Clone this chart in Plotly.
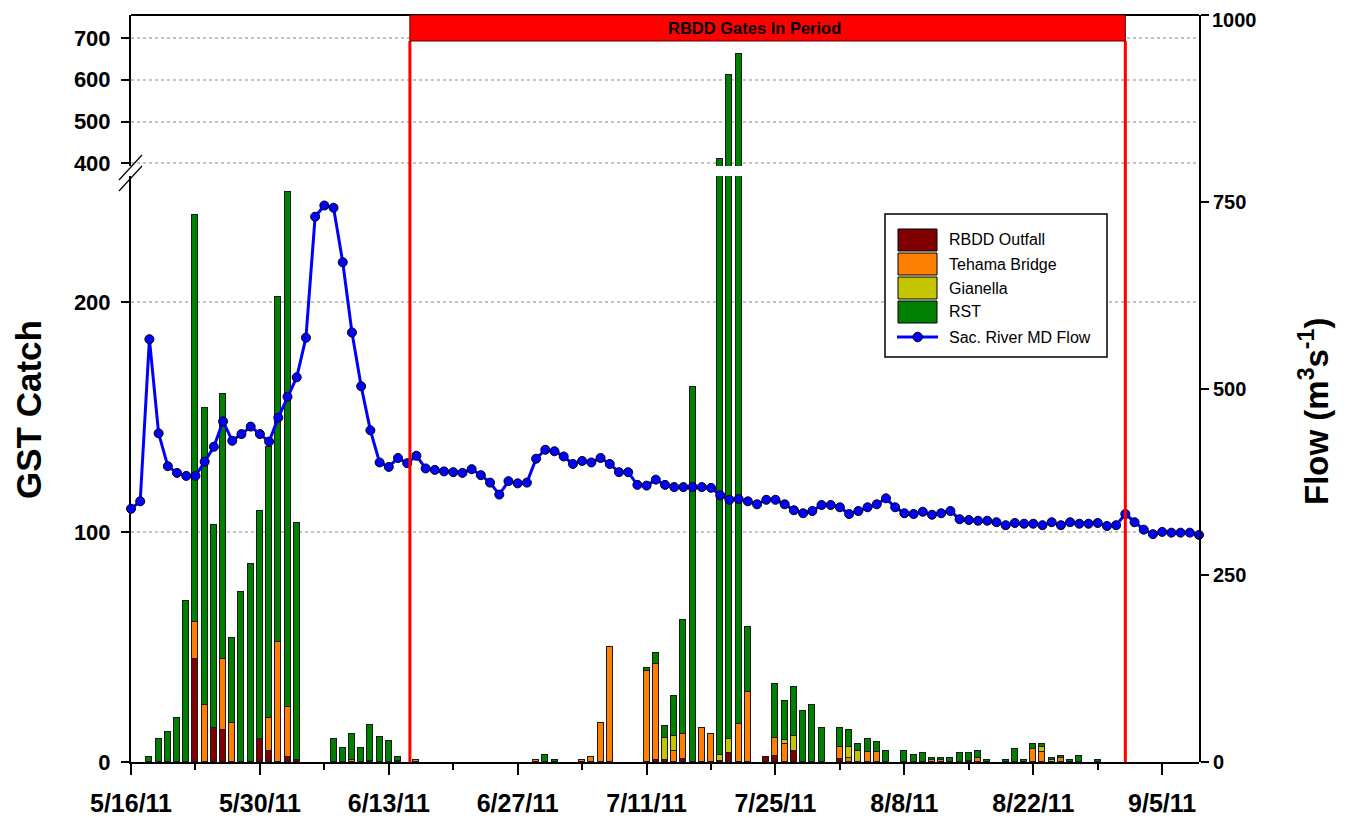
import pandas as pd
import plotly.graph_objects as go

# ---------------- data ----------------
bar_dates = [
    "2011-05-18", "2011-05-19", "2011-05-20", "2011-05-21", "2011-05-22", "2011-05-23",
    "2011-05-24", "2011-05-25", "2011-05-26", "2011-05-27", "2011-05-28", "2011-05-29",
    "2011-05-30", "2011-05-31", "2011-06-01", "2011-06-02", "2011-06-03",
    "2011-06-07", "2011-06-08", "2011-06-09", "2011-06-10", "2011-06-11", "2011-06-12",
    "2011-06-13", "2011-06-14", "2011-06-16",
    "2011-06-29", "2011-06-30", "2011-07-01", "2011-07-04", "2011-07-05", "2011-07-06",
    "2011-07-07", "2011-07-11", "2011-07-12", "2011-07-13", "2011-07-14", "2011-07-15",
    "2011-07-16", "2011-07-17", "2011-07-18", "2011-07-19", "2011-07-20", "2011-07-21",
    "2011-07-22", "2011-07-24", "2011-07-25", "2011-07-26", "2011-07-27", "2011-07-28",
    "2011-07-29", "2011-07-30", "2011-08-01", "2011-08-02", "2011-08-03", "2011-08-04",
    "2011-08-05", "2011-08-06", "2011-08-08", "2011-08-09", "2011-08-10", "2011-08-11",
    "2011-08-12", "2011-08-13", "2011-08-14", "2011-08-15", "2011-08-16", "2011-08-17",
    "2011-08-19", "2011-08-20", "2011-08-21", "2011-08-22", "2011-08-23", "2011-08-24",
    "2011-08-25", "2011-08-26", "2011-08-27", "2011-08-29",
]
rbdd = [
    0, 0, 0, 0, 0, 45,
    0, 15, 14, 0, 0, 0,
    10, 5, 0, 2, 1,
    0, 0, 0, 0, 0.5, 0,
    0, 0.5, 0,
    0, 0, 0, 0, 0, 0,
    0, 0, 1, 0.9, 0, 1.3,
    0, 0, 0, 0.5, 4, 0,
    0, 2, 2.6, 0, 4.6, 0,
    0, 0, 1.3, 0, 0, 0,
    0, 0, 0, 0, 0, 0,
    0, 0, 0, 0, 0, 0,
    0, 0, 0, 0, 0, 0,
    0, 0, 0, 0,
]
tehama = [
    0, 0, 0, 0, 0, 16,
    25, 0, 31, 17, 0, 0,
    0, 14, 52, 22, 0,
    0, 0, 1, 0, 0, 0,
    0, 0, 1,
    1, 0, 0, 1, 2, 17,
    50, 39.5, 41.5, 0, 4.6, 11,
    0, 15, 12, 0, 0, 16.5,
    30.6, 0, 8, 7.7, 0, 0,
    0, 0, 5.2, 1.6, 0, 4.5,
    4.5, 0, 0, 0, 0, 0.7,
    0.7, 0, 0, 0.6, 1.6, 0,
    0, 0, 0, 5.7, 4.5, 0,
    1.6, 0, 0, 0,
]
gianella = [
    0, 0, 0, 0, 0, 0,
    0, 0, 0, 0, 0, 0,
    0, 0, 0, 0, 0,
    0, 0, 0, 0, 0, 0,
    0, 0, 0,
    0, 0, 0, 0, 0, 0,
    0, 0, 0, 9.7, 6.8, 0,
    0, 0, 0, 2.5, 6, 0,
    0, 0, 0, 1.9, 6.8, 0,
    0, 0, 0, 4.9, 4.6, 0,
    0, 0, 0, 0, 0, 0,
    0, 0, 0, 0, 0, 0,
    0, 0, 0, 0, 2.2, 0.7,
    0, 0, 0, 0,
]
rst = [
    2, 10, 13, 19, 70, 177,
    129, 88, 115, 37, 74, 86,
    99, 118, 150, 224, 103,
    10, 6, 11, 6, 15.5, 11,
    9, 1.5, 0,
    0, 3, 1, 0, 0, 0,
    0, 1.2, 5, 5.1, 17.3, 49.3,
    163, 0, 0, 408, 602, 644,
    28, 0, 23.2, 17.1, 21.1, 22,
    24.6, 14.6, 8.1, 7.3, 3.1, 5.4,
    4.2, 4.6, 4.6, 2.9, 3.8, 1,
    1, 1.7, 3.8, 3.2, 3, 0.7,
    0.7, 5.7, 0.7, 2, 1, 1,
    1.2, 0.7, 2.8, 0.7,
]

flow_start = "2011-05-16"
flow_may = [339, 349, 566, 440, 396, 387, 383, 383, 402, 422, 456, 430, 439, 449, 439, 429]
flow_jun = [461, 489, 515, 568, 730, 745, 742, 669, 575, 503,
            444, 401, 395, 407, 400, 410, 393, 391, 389, 388,
            387, 392, 384, 374, 358, 376, 373, 374, 406, 418]
flow_jul = [416, 409, 399, 403, 401, 407, 399, 388, 388, 371,
            370, 378, 371, 368, 368, 368, 368, 367, 357, 351,
            352, 349, 345, 351, 351, 345, 337, 333, 336, 344, 344]
flow_aug = [341, 332, 336, 341, 345, 353, 341, 333, 332, 335,
            331, 333, 336, 325, 324, 323, 323, 321, 317, 320,
            319, 319, 317, 321, 317, 321, 319, 319, 320, 316, 317]
flow_sep = [332, 321, 311, 305, 308, 307, 307, 307, 304]
flow = flow_may + flow_jun + flow_jul + flow_aug + flow_sep
flow_dates = pd.date_range(flow_start, periods=len(flow), freq="D")

x_tick_dates = ["2011-05-16", "2011-05-30", "2011-06-13", "2011-06-27", "2011-07-11",
                "2011-07-25", "2011-08-08", "2011-08-22", "2011-09-05"]
x_tick_labels = ["5/16/11", "5/30/11", "6/13/11", "6/27/11", "7/11/11",
                 "7/25/11", "8/8/11", "8/22/11", "9/5/11"]
flow_tick_vals = [0, 250, 500, 750, 1000]
flow_tick_text = ["0", "250", "500", "750", "1000"]
gates_start = "2011-06-15 07:00"
gates_end = "2011-09-01"
flow_name = "Sac. River MD Flow"

# ---------------- style ----------------
FONT = "Liberation Sans, Arial, sans-serif"
DAY_MS = 86400000
BAR_W = 0.65 * DAY_MS
series = [
    ("RBDD Outfall", rbdd, "#800000"),
    ("Tehama Bridge", tehama, "#ff8000"),
    ("Gianella", gianella, "#c4c400"),
    ("RST", rst, "#008000"),
]
FLOW_COLOR = "#0000ff"


def nz(vals):
    return [v if v else None for v in vals]


fig = go.Figure()
for name, vals, col in series:
    fig.add_trace(go.Bar(
        x=bar_dates, y=nz(vals), name=name, width=BAR_W, yaxis="y",
        marker=dict(color=col, line=dict(color="#1a1a1a", width=1)),
        legendgroup=name, showlegend=False,
    ))

fig.add_trace(go.Scatter(
    x=flow_dates, y=flow, yaxis="y2", name=flow_name,
    mode="lines+markers", cliponaxis=False, showlegend=False,
    line=dict(color=FLOW_COLOR, width=3),
    marker=dict(color=FLOW_COLOR, size=9, line=dict(color="black", width=1)),
))

for name, vals, col in series:
    fig.add_trace(go.Bar(
        x=bar_dates, y=nz(vals), name=name, width=BAR_W, yaxis="y3",
        marker=dict(color=col, line=dict(color="#1a1a1a", width=1)),
        legendgroup=name, showlegend=False,
    ))

tickfont = dict(family=FONT, size=22, color="black", weight="bold")
right_tickfont = dict(family=FONT, size=20, color="black", weight="bold")
common_y = dict(
    ticks="outside", ticklen=8, tickwidth=2, tickcolor="black",
    showline=True, linecolor="black", linewidth=2, zeroline=False,
    showgrid=True, gridcolor="#c4c4c4", griddash="dot", gridwidth=1.5,
    tickfont=tickfont, tickmode="array", automargin=False,
    ticklabelstandoff=6,
)

# plot area (in page pixels): x 131..1199, y 15..762
H = 747.0
W = 1068.0


def px_x(px):
    return (px - 131) / W


def px_y(py):
    return (762 - py) / H


# the top tick label would be clipped at the page edge; draw it as text instead
right_ticktext = flow_tick_text[:-1] + [""]

# page has an 8px body margin, so the figure is offset by 8px
fig.update_layout(
    width=1340, height=810,
    margin=dict(l=123, r=149, t=7, b=56, autoexpand=False),
    barmode="stack", bargap=0,
    plot_bgcolor="rgba(0,0,0,0)", paper_bgcolor="white",
    font=dict(family=FONT, color="black"),
    showlegend=False,
    xaxis=dict(
        type="date", range=["2011-05-16", "2011-09-09"], anchor="y",
        tickmode="array", tickvals=x_tick_dates, ticktext=x_tick_labels,
        ticks="outside", ticklen=11, tickwidth=2, tickcolor="black",
        showline=True, linecolor="black", linewidth=2, showgrid=False,
        zeroline=False, automargin=False, ticklabelstandoff=7,
        tickfont=dict(family=FONT, size=25, color="black", weight="bold"),
        minor=dict(ticks="outside", ticklen=6, tickwidth=2, tickcolor="black",
                   dtick=7 * DAY_MS, tick0="2011-05-16", showgrid=False),
    ),
    yaxis=dict(domain=[0, px_y(176)], range=[0, 254.8], anchor="x",
               tickvals=[0, 100, 200], **common_y),
    yaxis3=dict(domain=[px_y(166), 1], range=[394, 754.8], anchor="x",
                tickvals=[400, 500, 600, 700], **common_y),
    yaxis2=dict(domain=[0, 1], range=[0, 1000], anchor="x", side="right",
                tickmode="array", tickvals=flow_tick_vals, ticktext=right_ticktext,
                ticks="outside", ticklen=8, tickwidth=2, tickcolor="black",
                showline=True, linecolor="black", linewidth=2,
                showgrid=False, zeroline=False, automargin=False,
                tickfont=right_tickfont),
)

shapes = [
    # top frame
    dict(type="line", xref="paper", yref="paper", x0=0, x1=1, y0=1, y1=1,
         line=dict(color="black", width=2)),
    # axis break marks
    dict(type="line", xref="paper", yref="paper", x0=px_x(119), x1=px_x(142),
         y0=px_y(180), y1=px_y(155), line=dict(color="black", width=1.2)),
    dict(type="line", xref="paper", yref="paper", x0=px_x(119), x1=px_x(142),
         y0=px_y(191), y1=px_y(166), line=dict(color="black", width=1.2)),
    # gates-in period lines and box
    dict(type="line", xref="x", yref="paper", x0=gates_start, x1=gates_start,
         y0=0, y1=px_y(41), line=dict(color="#ff0000", width=3), layer="above"),
    dict(type="line", xref="x", yref="paper", x0=gates_end, x1=gates_end,
         y0=0, y1=px_y(41), line=dict(color="#ff0000", width=3), layer="above"),
    dict(type="rect", xref="x", yref="paper", x0=gates_start, x1=gates_end,
         y0=px_y(41), y1=1, fillcolor="#ff0000", line=dict(color="#600000", width=1),
         layer="above"),
    # legend box
    dict(type="rect", xref="paper", yref="paper", x0=px_x(885), x1=px_x(1107),
         y0=px_y(357), y1=px_y(214), fillcolor="white",
         line=dict(color="black", width=1.5), layer="above"),
]

annotations = [
    dict(text="RBDD Gates In Period", xref="x", yref="paper",
         x=pd.Timestamp(gates_start) + (pd.Timestamp(gates_end) - pd.Timestamp(gates_start)) / 2,
         y=px_y(28), xanchor="center", yanchor="middle", showarrow=False, xshift=-13,
         font=dict(family=FONT, size=16.5, color="black", weight="bold")),
    dict(text="GST Catch", xref="paper", yref="paper", x=px_x(28), y=px_y(410),
         xanchor="center", yanchor="middle", textangle=-90, showarrow=False,
         font=dict(family=FONT, size=35, color="black", weight="bold")),
    dict(text="Flow (m<sup>3</sup>s<sup>-1</sup>)", xref="paper", yref="paper",
         x=px_x(1314), y=px_y(412), xanchor="center", yanchor="middle",
         textangle=-90, showarrow=False,
         font=dict(family=FONT, size=33, color="black", weight="bold")),
    # top right-axis label
    dict(text=flow_tick_text[-1], xref="paper", yref="paper", x=px_x(1211), y=px_y(8),
         xanchor="left", yanchor="top", showarrow=False, borderpad=0,
         font=right_tickfont),
]

# legend entries (drawn as shapes + text)
legend_rows = [240, 264, 288, 312]
for (name, vals, col), yc in zip(series, legend_rows):
    shapes.append(dict(type="rect", xref="paper", yref="paper",
                       x0=px_x(898), x1=px_x(937), y0=px_y(yc + 11), y1=px_y(yc - 11),
                       fillcolor=col, line=dict(color="black", width=1), layer="above"))
    annotations.append(dict(text=name, xref="paper", yref="paper", x=px_x(947), y=px_y(yc),
                            xanchor="left", yanchor="middle", showarrow=False,
                            font=dict(family=FONT, size=16, color="black")))
yl = 337
shapes.append(dict(type="line", xref="paper", yref="paper", x0=px_x(897), x1=px_x(938),
                   y0=px_y(yl), y1=px_y(yl), line=dict(color=FLOW_COLOR, width=3), layer="above"))
shapes.append(dict(type="circle", xref="paper", yref="paper", x0=px_x(913), x1=px_x(922.5),
                   y0=px_y(yl + 4.75), y1=px_y(yl - 4.75), fillcolor=FLOW_COLOR,
                   line=dict(color="black", width=1), layer="above"))
annotations.append(dict(text=flow_name, xref="paper", yref="paper", x=px_x(947), y=px_y(yl),
                        xanchor="left", yanchor="middle", showarrow=False,
                        font=dict(family=FONT, size=16, color="black")))

fig.update_layout(shapes=shapes, annotations=annotations)

fig.write_html("out.html")
